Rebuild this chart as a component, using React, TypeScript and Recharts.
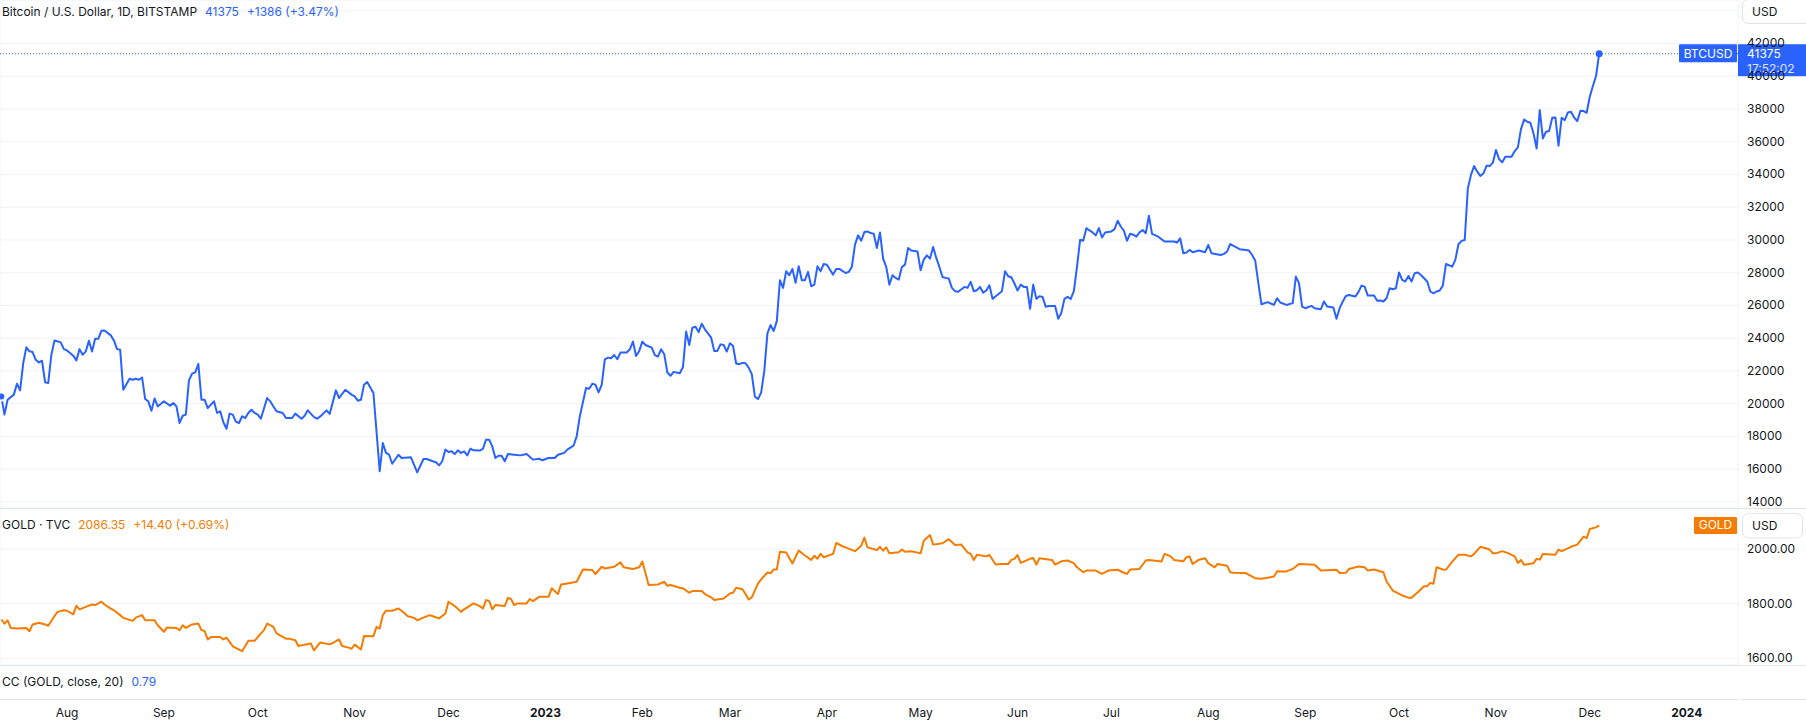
import React from 'react';
import { LineChart, Line, XAxis, YAxis, CartesianGrid, ReferenceLine, ReferenceDot } from 'recharts';

// ---------- categories / ticks ----------
const monthStarts = ['2022-08-01','2022-09-01','2022-10-01','2022-11-01','2022-12-01','2023-01-01','2023-02-01','2023-03-01','2023-04-01','2023-05-01','2023-06-01','2023-07-01','2023-08-01','2023-09-01','2023-10-01','2023-11-01','2023-12-01','2024-01-01'];
const monthLabels = ['Aug','Sep','Oct','Nov','Dec','2023','Feb','Mar','Apr','May','Jun','Jul','Aug','Sep','Oct','Nov','Dec','2024'];
const btcTicks = [14000,16000,18000,20000,22000,24000,26000,28000,30000,32000,34000,36000,38000,40000,42000];
const btcExtraGrid = [44000];
const goldTicks = [1600,1800,2000];

// ---------- BTC (day offset from 2022-08-01, close) ----------
const btcDays = [-21,-20,-19,-17,-16,-15,-14,-13,-12,-11,-10,-9,-8,-7,-6,-5,-4,-2,-1,0,2,3,4,5,6,7,8,9,10,11,12,14,15,16,17,18,20,21,22,23,24,25,26,27,28,29,31,33,34,35,36,37,38,39,40,41,42,43,44,45,47,48,49,50,51,52,53,54,55,56,57,58,59,60,61,62,64,65,66,67,69,70,72,73,75,76,77,79,80,81,83,84,86,87,89,91,92,93,94,95,96,98,100,101,102,103,104,106,107,110,112,114,115,117,118,119,120,121,122,123,124,125,126,127,128,129,130,132,133,134,135,136,137,138,139,140,141,143,145,147,149,151,152,154,156,157,159,160,162,163,164,166,167,168,169,170,171,172,173,174,175,176,177,179,180,181,182,183,184,185,187,188,189,190,191,192,193,194,196,197,198,199,200,201,202,203,204,206,207,208,209,210,211,212,213,214,215,216,217,218,219,220,221,222,223,224,225,226,227,228,229,230,231,232,233,234,235,236,237,238,239,240,241,242,243,245,246,247,249,250,251,252,253,254,255,256,257,258,259,260,261,262,263,264,265,266,267,268,269,270,272,273,274,275,276,277,278,279,280,281,282,283,284,285,287,288,289,290,291,292,293,294,295,296,297,299,300,301,302,303,304,305,306,307,308,309,310,311,312,313,314,316,317,318,319,320,321,322,323,324,325,326,327,328,329,330,331,332,334,335,336,337,338,339,340,341,342,343,344,345,346,347,349,351,353,354,355,356,357,358,359,360,362,364,365,366,369,370,371,372,374,375,377,378,379,380,381,382,384,386,387,388,390,392,393,394,395,396,398,399,401,402,403,405,406,407,408,409,410,412,413,414,415,416,418,419,420,421,422,423,424,425,426,427,428,429,430,431,432,433,435,436,437,438,439,440,441,443,444,445,446,447,448,449,450,451,452,453,454,455,456,457,458,459,460,462,463,464,465,466,467,468,469,470,471,472,473,474,475,476,477,478,479,480,481,482,483,484,485,486,487,488,489,490];
const btcValues = [20440,19330,20240,20550,21220,20810,22480,23440,23200,23150,22680,22520,22620,21300,21260,22990,23860,23740,23330,23250,22930,22640,23330,22990,23190,23840,23190,23960,23960,24450,24470,24170,23860,23330,23290,20850,21520,21460,21520,21460,21600,20280,20140,19570,20320,19830,20140,19870,20040,19830,18820,19260,19330,21420,21830,21910,22420,20240,20240,19730,20140,19430,19530,18860,18470,19390,19330,18900,18820,19230,19120,19430,19630,19430,19330,19080,20340,20140,19830,19530,19430,19120,19120,19390,19080,19260,19590,19180,19080,19220,19590,19370,20810,20340,20850,20550,20440,20180,20240,21160,21320,20650,15870,17600,16990,16880,16330,16880,16680,16720,15800,16620,16620,16480,16420,16230,16480,17190,17050,17090,16920,17150,16990,17090,16840,17250,17150,17130,17230,17800,17800,17390,16680,16820,16820,16480,16920,16880,16840,16920,16580,16640,16540,16680,16680,16880,16990,17190,17430,18000,19220,20950,20910,21220,21160,20690,21150,22710,22810,22770,22970,22710,23120,23120,23320,23790,22910,23220,23790,23580,23420,22970,22870,23320,23020,21900,21700,21940,21860,22250,24400,23580,24640,24700,24370,24880,24540,24030,23220,23220,23620,23580,23180,23690,23520,22450,22410,22490,22470,22200,21800,20420,20280,20680,22000,24290,24800,24440,25040,27540,27070,28090,27840,28230,27380,28390,27540,27540,28050,27170,27270,28390,28090,28530,28490,27880,28230,28230,27980,28050,28350,29710,30280,29950,30480,30520,30420,30380,29510,30460,28860,28350,27270,27840,27680,27580,28350,28490,29510,29350,29300,28150,28800,29060,28860,29570,28900,28350,27740,27680,27640,27070,26870,26830,27130,27070,27440,26870,26930,27130,26770,26910,27230,26400,26560,26870,28090,27780,27720,27340,26910,27270,27130,27130,25790,27270,26400,26560,26520,25920,25960,25960,25190,25550,26400,26520,26400,26870,28350,30010,29950,30720,30580,30460,30280,30720,30150,30460,30520,30660,31170,30820,30560,29950,30380,30320,30200,30460,30610,30410,31480,30370,30200,29900,29900,29900,29840,30100,29190,29230,29390,29250,29350,29250,29690,29190,29080,29150,29290,29750,29550,29430,29390,29350,29080,28740,27360,26070,26200,26030,26440,26180,26030,26140,27760,27360,25930,25830,25970,25830,25770,26240,25930,25870,25180,25830,26240,26580,26640,26540,26810,27210,27150,26600,26600,26280,26300,26240,26440,27050,26990,27050,28010,27560,27460,27800,27460,27970,28010,27860,27460,26850,26740,26850,26910,27210,28530,28370,28780,29740,29940,30000,33150,33970,34510,34170,33910,34070,34540,34510,34720,35490,34940,34740,35080,35080,35430,35650,36770,37360,37220,37160,36510,35590,37930,36200,36610,36650,37460,37480,35760,37460,37320,37790,37830,37480,37260,37890,37870,37770,38750,39400,40010,41375];

// ---------- GOLD (day offset from 2022-08-01, close) ----------
const goldDays = [-21,-20,-19,-18,-16,-13,-12,-11,-9,-7,-6,-4,-3,-1,0,2,3,4,6,8,9,11,12,14,15,17,18,21,22,24,25,28,29,31,32,35,36,37,38,40,42,43,44,45,46,49,50,51,52,53,55,56,58,60,62,63,64,66,67,70,71,73,74,76,78,79,81,84,85,87,88,90,91,92,94,95,98,99,100,101,102,104,106,107,109,111,112,114,116,117,119,121,122,124,126,127,130,132,133,134,135,136,137,140,141,142,143,144,146,147,148,149,151,154,155,157,158,160,163,165,168,169,171,172,175,177,178,181,183,184,186,189,191,192,193,196,197,199,200,203,204,206,207,210,212,213,214,216,217,218,219,221,222,224,225,226,227,228,230,232,234,236,238,239,240,241,242,245,246,248,249,252,254,255,256,259,260,261,262,263,266,267,268,270,273,274,276,277,280,282,284,286,288,289,290,291,294,295,297,299,301,302,303,304,305,308,309,310,311,315,316,318,320,322,323,325,326,329,331,333,336,338,339,340,343,345,346,350,351,353,354,357,358,359,360,362,364,365,367,368,371,372,373,377,378,380,382,386,387,390,392,394,399,401,406,407,409,410,413,415,416,418,421,422,424,427,429,430,432,434,435,436,437,438,440,441,443,445,447,449,450,452,455,456,457,459,461,463,464,465,466,469,470,471,472,476,477,478,481,483,485,486,487,489,490];
const goldValues = [1742,1727,1739,1711,1709,1711,1699,1724,1730,1724,1719,1755,1770,1776,1774,1761,1792,1779,1788,1797,1795,1807,1797,1782,1776,1758,1748,1737,1749,1758,1739,1739,1721,1697,1713,1711,1703,1721,1711,1724,1727,1703,1700,1669,1678,1678,1669,1676,1660,1644,1632,1626,1664,1664,1691,1703,1727,1715,1691,1672,1672,1666,1645,1650,1654,1629,1658,1651,1656,1669,1645,1639,1635,1650,1632,1682,1681,1715,1709,1758,1774,1774,1782,1774,1754,1748,1739,1749,1758,1754,1746,1764,1807,1791,1770,1779,1801,1791,1782,1813,1810,1779,1795,1791,1821,1817,1795,1801,1801,1801,1817,1809,1825,1825,1856,1835,1870,1874,1880,1925,1923,1908,1935,1929,1935,1951,1933,1927,1933,1954,1868,1870,1880,1865,1868,1858,1856,1840,1846,1846,1835,1823,1813,1819,1837,1840,1858,1853,1835,1815,1823,1874,1889,1914,1911,1925,1925,1990,1987,1947,1994,1976,1960,1975,1964,1982,1970,1982,2022,2010,2006,1992,2012,2042,2006,1996,2008,1994,2006,1984,1988,1998,1990,1992,1984,2030,2051,2016,2021,2036,2015,2016,1988,1982,1960,1979,1973,1978,1943,1945,1945,1960,1964,1978,1949,1964,1967,1943,1966,1960,1943,1955,1958,1948,1933,1915,1921,1921,1909,1921,1924,1913,1909,1925,1927,1958,1960,1954,1982,1973,1960,1955,1970,1973,1945,1961,1966,1948,1933,1945,1939,1915,1913,1912,1905,1893,1891,1899,1919,1918,1927,1945,1942,1921,1924,1912,1913,1927,1936,1933,1921,1925,1915,1881,1848,1830,1822,1822,1842,1864,1864,1876,1873,1933,1925,1924,1954,1979,1979,1973,1982,2008,1998,1984,1984,1992,1984,1973,1949,1960,1942,1948,1964,1961,1982,1979,1998,1992,2008,2016,2045,2040,2073,2079,2086.35];

// ---------- constants ----------
const W = 1806;
const H = 723;
const AXIS_W = 68;
const BLUE = '#2962ff';
const ORANGE = '#f57c00';
const TEXT = '#131722';
const GRID = '#f0f2f5';
const SEP = '#e0e3eb';
const FONT = 'Inter, Roboto, "Noto Sans", sans-serif';
const X_DOMAIN: [number, number] = [-21.43, 534.4];

const DAY0 = Date.parse('2022-08-01');
const monthDays = monthStarts.map((s) => Math.round((Date.parse(s) - DAY0) / 86400000));

const btcData = btcDays.map((d, i) => ({ d, v: btcValues[i] }));
const goldData = goldDays.map((d, i) => ({ d, v: goldValues[i] }));
const lastBtc = btcData[btcData.length - 1];
const lastGold = goldData[goldData.length - 1];

const PriceTick = (props: any) => {
  const { x, y, payload, digits } = props;
  return (
    <text x={x} y={y} dy={4} fill={TEXT} fontSize={12} fontFamily={FONT} textAnchor="start">
      {digits ? Number(payload.value).toFixed(digits) : String(payload.value)}
    </text>
  );
};

const TimeTick = (props: any) => {
  const { x, y, payload } = props;
  const idx = monthDays.indexOf(payload.value);
  const label = monthLabels[idx] ?? '';
  const bold = /^\d{4}$/.test(label);
  return (
    <text x={x} y={y} dy={18} fill={TEXT} fontSize={12} fontFamily={FONT} fontWeight={bold ? 700 : 400} textAnchor="middle">
      {label}
    </text>
  );
};

const BtcTag = (props: any) => {
  const vb = props.viewBox || {};
  const right = (vb.x || 0) + (vb.width || 0);
  const y = vb.y || 0;
  return (
    <g fontFamily={FONT} fontSize={12}>
      <rect x={right - 59} y={y - 9.5} width={58} height={18} fill={BLUE} rx={1} />
      <text x={right - 30} y={y + 4} fill="#fff" textAnchor="middle">BTCUSD</text>
      <rect x={right} y={y - 9.5} width={AXIS_W} height={32} fill={BLUE} />
      <text x={right + 9} y={y + 4} fill="#fff">{String(lastBtc.v)}</text>
      <text x={right + 9} y={y + 19} fill="#fff" fillOpacity={0.85}>17:52:02</text>
    </g>
  );
};

const GoldTag = (props: any) => {
  const vb = props.viewBox || {};
  const right = (vb.x || 0) + (vb.width || 0);
  const y = vb.y || 0;
  return (
    <g fontFamily={FONT} fontSize={12}>
      <rect x={right - 44} y={y - 8.5} width={43} height={17} fill={ORANGE} rx={1} />
      <text x={right - 22.5} y={y + 4} fill="#fff" textAnchor="middle">GOLD</text>
      <rect x={right + 4.5} y={y - 12} width={60} height={24.5} fill="#fff" stroke={SEP} rx={6} />
      <text x={right + 14} y={y + 4.5} fill={TEXT}>USD</text>
    </g>
  );
};

const legendRow = (top: number): React.CSSProperties => ({
  position: 'absolute',
  left: 2,
  top,
  height: 16,
  lineHeight: '16px',
  fontSize: 12,
  fontFamily: FONT,
  color: TEXT,
  whiteSpace: 'nowrap',
  pointerEvents: 'none',
});

export default function App() {
  return (
    <div style={{ position: 'absolute', left: 0, top: 0, width: W, height: H, background: '#fff', overflow: 'hidden', fontFamily: FONT }}>
      {/* BTC pane */}
      <div style={{ position: 'absolute', left: 0, top: 0 }}>
        <LineChart width={W} height={508} data={btcData} margin={{ top: 0, right: 0, bottom: 0, left: 0 }}>
          <CartesianGrid stroke={GRID} strokeWidth={1} />
          <XAxis dataKey="d" type="number" domain={X_DOMAIN} allowDataOverflow ticks={monthDays} tick={false} axisLine={false} tickLine={false} height={0} />
          <YAxis orientation="right" type="number" domain={[13625, 44657]} allowDataOverflow ticks={btcTicks} width={AXIS_W} axisLine={false} tickLine={false} tickSize={0} tickMargin={9} interval={0} tick={<PriceTick />} />
          {btcExtraGrid.map((v) => (
            <ReferenceLine key={v} y={v} stroke={GRID} strokeWidth={1} />
          ))}
          <Line type="linear" dataKey="v" stroke={BLUE} strokeWidth={2} dot={false} isAnimationActive={false} strokeLinejoin="round" />
          <ReferenceLine y={lastBtc.v} stroke={BLUE} strokeWidth={1} strokeDasharray="1 2" label={<BtcTag />} />
          <ReferenceDot x={lastBtc.d} y={lastBtc.v} r={3.5} fill={BLUE} stroke="none" />
        </LineChart>
      </div>

      {/* GOLD pane */}
      <div style={{ position: 'absolute', left: 0, top: 508 }}>
        <LineChart width={W} height={157} data={goldData} margin={{ top: 0, right: 0, bottom: 0, left: 0 }}>
          <CartesianGrid stroke={GRID} strokeWidth={1} />
          <XAxis dataKey="d" type="number" domain={X_DOMAIN} allowDataOverflow ticks={monthDays} tick={false} axisLine={false} tickLine={false} height={0} />
          <YAxis orientation="right" type="number" domain={[1575.5, 2150]} allowDataOverflow ticks={goldTicks} width={AXIS_W} axisLine={false} tickLine={false} tickSize={0} tickMargin={9} interval={0} tick={<PriceTick digits={2} />} />
          <Line type="linear" dataKey="v" stroke={ORANGE} strokeWidth={2} dot={false} isAnimationActive={false} strokeLinejoin="round" />
          <ReferenceLine y={lastGold.v} stroke="none" label={<GoldTag />} />
        </LineChart>
      </div>

      {/* CC pane + time axis */}
      <div style={{ position: 'absolute', left: 0, top: 665 }}>
        <LineChart width={W} height={58} data={goldData} margin={{ top: 0, right: AXIS_W, bottom: 0, left: 0 }}>
          <XAxis dataKey="d" type="number" domain={X_DOMAIN} allowDataOverflow ticks={monthDays} interval={0} height={24} axisLine={false} tickLine={false} tickSize={0} tickMargin={0} tick={<TimeTick />} />
          <YAxis hide domain={[0, 1]} />
          <Line type="linear" dataKey="v" stroke="transparent" dot={false} isAnimationActive={false} />
        </LineChart>
      </div>

      {/* pane separators */}
      <div style={{ position: 'absolute', left: 0, top: 508, width: W, height: 1, background: SEP }} />
      <div style={{ position: 'absolute', left: 0, top: 665, width: W, height: 1, background: SEP }} />
      <div style={{ position: 'absolute', left: 0, top: 699, width: W - AXIS_W, height: 1, background: SEP }} />
      <div style={{ position: 'absolute', left: W - AXIS_W + 2, top: 699, width: AXIS_W - 2, height: 1, background: SEP }} />

      {/* currency button */}
      <div style={{ position: 'absolute', left: 1742, top: -1, width: 59, height: 23, border: `1px solid ${SEP}`, borderRadius: 6, background: '#fff', fontSize: 12, lineHeight: '24px', color: TEXT, paddingLeft: 9, boxSizing: 'content-box', fontFamily: FONT }}>
        USD
      </div>

      {/* legends */}
      <div style={legendRow(4)}>
        Bitcoin / U.S. Dollar, 1D, BITSTAMP
        <span style={{ color: BLUE, marginLeft: 8 }}>41375</span>
        <span style={{ color: BLUE, marginLeft: 8 }}>+1386 (+3.47%)</span>
      </div>
      <div style={legendRow(517)}>
        GOLD · TVC
        <span style={{ color: ORANGE, marginLeft: 8 }}>2086.35</span>
        <span style={{ color: ORANGE, marginLeft: 8 }}>+14.40 (+0.69%)</span>
      </div>
      <div style={legendRow(674)}>
        CC (GOLD, close, 20)
        <span style={{ color: BLUE, marginLeft: 8 }}>0.79</span>
      </div>
    </div>
  );
}
